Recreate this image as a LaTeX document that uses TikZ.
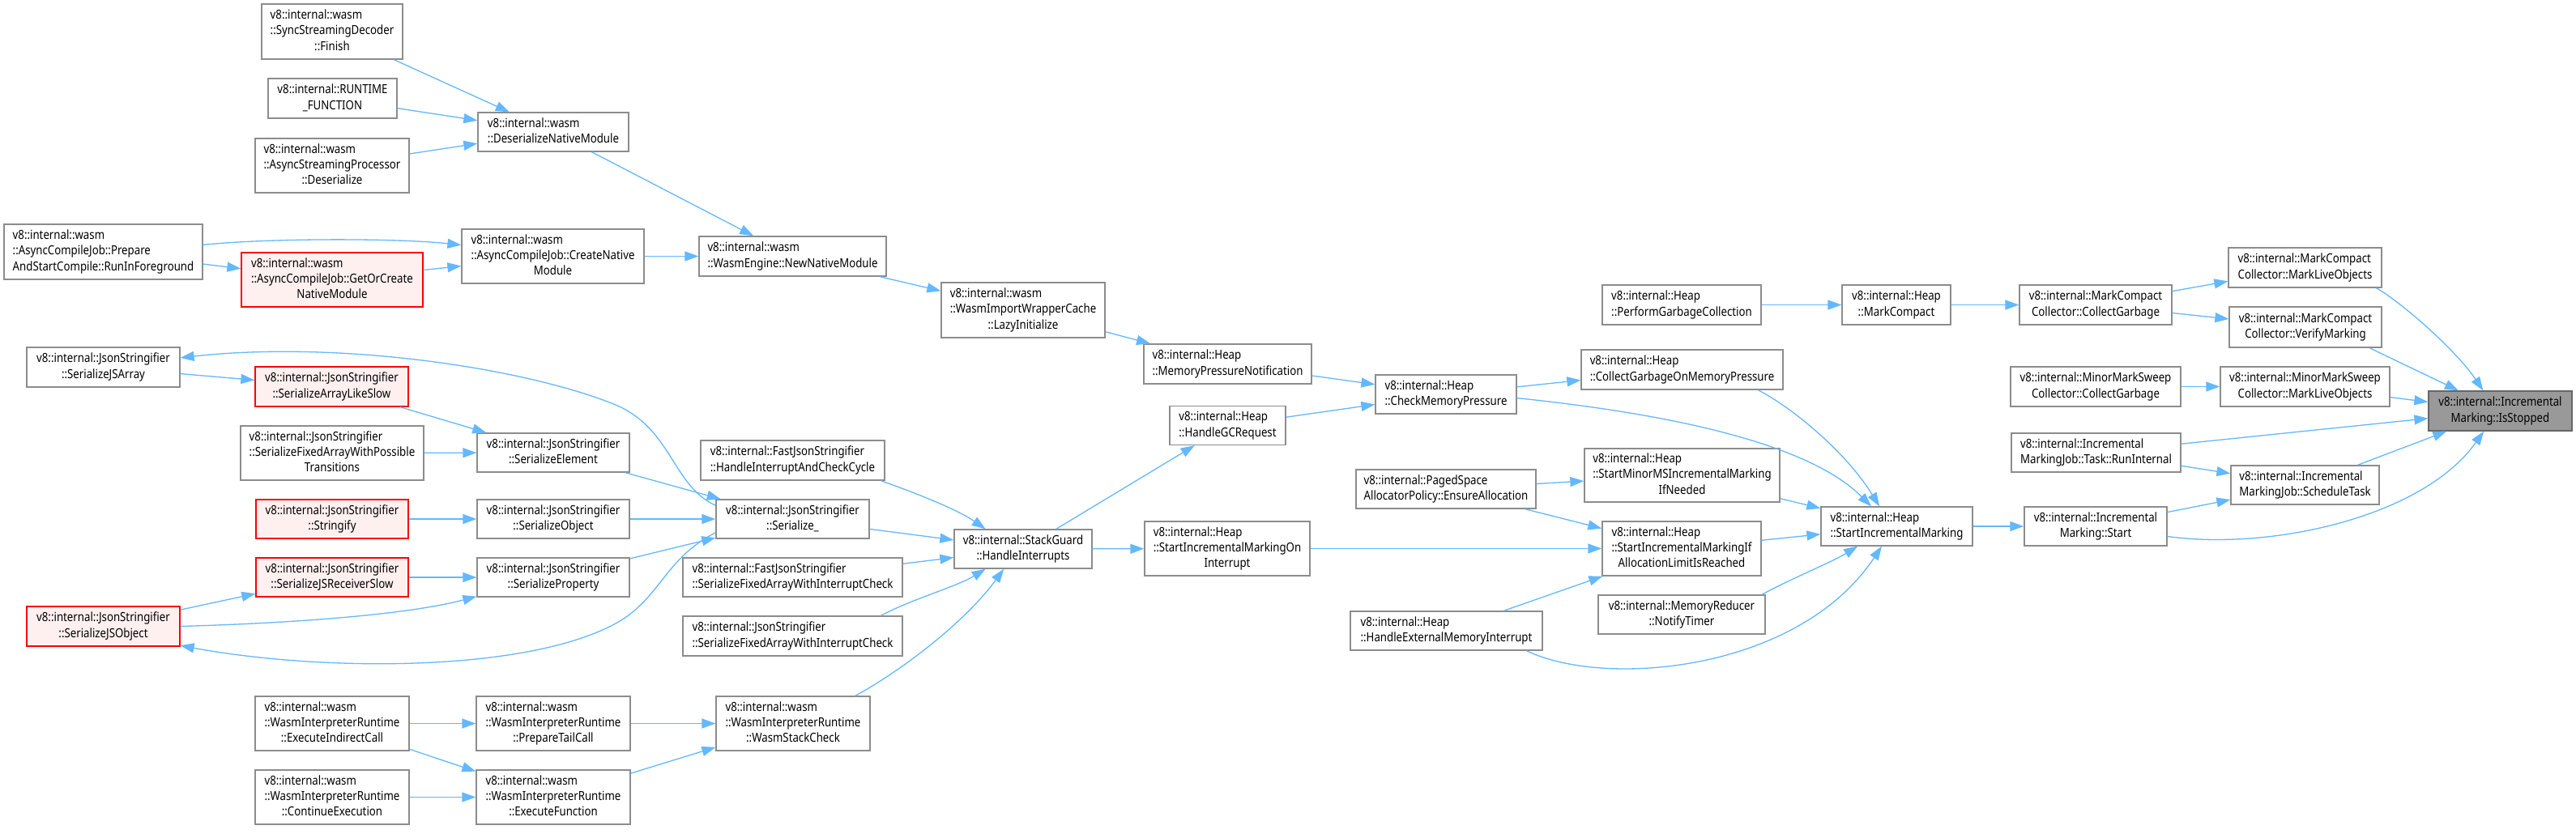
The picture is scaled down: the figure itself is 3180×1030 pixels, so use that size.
\documentclass[tikz,border=0pt]{standalone}
\usepackage{fontspec}
\setmainfont[FakeStretch=0.86]{Noto Sans}
\usetikzlibrary{arrows.meta}
\definecolor{edgeblue}{HTML}{63B8FF}
\definecolor{nodeborder}{HTML}{8C8C8C}
\definecolor{redfill}{HTML}{FFF0F0}
\definecolor{redborder}{HTML}{FF0000}
\definecolor{grayfill}{HTML}{999999}
\definecolor{grayborder}{HTML}{666666}
\newcommand{\lbl}[2]{\begin{tabular}{@{}l@{}}#1\\\multicolumn{1}{@{}c@{}}{#2}\end{tabular}}
\begin{document}
\begin{tikzpicture}[x=1pt,y=-1pt,
  font=\fontsize{15.4}{19.3}\selectfont,
  box/.style={draw=nodeborder,line width=1.3pt,fill=white,inner xsep=4pt,inner ysep=2pt,text=black},
  redbox/.style={box,draw=redborder,fill=redfill},
  graybox/.style={box,draw=grayborder,fill=grayfill},
  edge/.style={draw=edgeblue,line width=1.3pt,-{Triangle[length=17pt,width=12pt]}}]
\fill[white] (0,0) rectangle (3180,1030);
\useasboundingbox (0,0) rectangle (3180,1030);
% wasm group
\node[box,minimum width=174,minimum height=68] (ssd) at (410,39) {\lbl{v8::internal::wasm\\::SyncStreamingDecoder}{::Finish}};
\node[box,minimum width=159,minimum height=49] (rtf) at (410.5,121.5) {\lbl{v8::internal::RUNTIME}{\_FUNCTION}};
\node[box,minimum width=190,minimum height=67] (asp) at (410,204.5) {\lbl{v8::internal::wasm\\::AsyncStreamingProcessor}{::Deserialize}};
\node[box,minimum width=186,minimum height=48] (dnm) at (683,163) {\lbl{v8::internal::wasm}{::DeserializeNativeModule}};
\node[box,minimum width=245,minimum height=68] (psc) at (127.5,311) {\lbl{v8::internal::wasm\\::AsyncCompileJob::Prepare}{AndStartCompile::RunInForeground}};
\node[redbox,minimum width=224,minimum height=67] (goc) at (410,345.5) {\lbl{v8::internal::wasm\\::AsyncCompileJob::GetOrCreate}{NativeModule}};
\node[box,minimum width=225,minimum height=67] (cnm) at (682.5,316.5) {\lbl{v8::internal::wasm\\::AsyncCompileJob::CreateNative}{Module}};
\node[box,minimum width=231,minimum height=49] (nnm) at (978.5,316.5) {\lbl{v8::internal::wasm}{::WasmEngine::NewNativeModule}};
\node[box,minimum width=202,minimum height=68] (li) at (1263,383) {\lbl{v8::internal::wasm\\::WasmImportWrapperCache}{::LazyInitialize}};
% heap group
\node[box,minimum width=207,minimum height=49] (mpn) at (1515.5,449.5) {\lbl{v8::internal::Heap}{::MemoryPressureNotification}};
\node[box,minimum width=143,minimum height=48] (hgc) at (1515.5,525.5) {\lbl{v8::internal::Heap}{::HandleGCRequest}};
\node[box,minimum width=174,minimum height=48] (cmp) at (1785,487) {\lbl{v8::internal::Heap}{::CheckMemoryPressure}};
\node[box,minimum width=196,minimum height=49] (pgc) at (2076,376.5) {\lbl{v8::internal::Heap}{::PerformGarbageCollection}};
\node[box,minimum width=134,minimum height=49] (mc) at (2341,376.5) {\lbl{v8::internal::Heap}{::MarkCompact}};
\node[box,minimum width=188,minimum height=49] (mccg) at (2587,376.5) {\lbl{v8::internal::MarkCompact}{Collector::CollectGarbage}};
\node[box,minimum width=189,minimum height=49] (mcmlo) at (2845.5,330.5) {\lbl{v8::internal::MarkCompact}{Collector::MarkLiveObjects}};
\node[box,minimum width=188,minimum height=50] (mcvm) at (2846,404) {\lbl{v8::internal::MarkCompact}{Collector::VerifyMarking}};
\node[box,minimum width=249,minimum height=49] (cgomp) at (2076.5,456.5) {\lbl{v8::internal::Heap}{::CollectGarbageOnMemoryPressure}};
\node[box,minimum width=210,minimum height=49] (mmscg) at (2587,477.5) {\lbl{v8::internal::MinorMarkSweep}{Collector::CollectGarbage}};
\node[box,minimum width=209,minimum height=49] (mmsmlo) at (2845.5,477.5) {\lbl{v8::internal::MinorMarkSweep}{Collector::MarkLiveObjects}};
\node[graybox,minimum width=177,minimum height=49] (is) at (3086.5,507.5) {\lbl{v8::internal::Incremental}{Marking::IsStopped}};
\node[box,minimum width=209,minimum height=48] (ri) at (2587.5,559) {\lbl{v8::internal::Incremental}{MarkingJob::Task::RunInternal}};
\node[box,minimum width=183,minimum height=48] (st) at (2845.5,599) {\lbl{v8::internal::Incremental}{MarkingJob::ScheduleTask}};
\node[box,minimum width=176,minimum height=48] (ims) at (2587,650) {\lbl{v8::internal::Incremental}{Marking::Start}};
\node[box,minimum width=187,minimum height=48] (sim) at (2341.5,650) {\lbl{v8::internal::Heap}{::StartIncrementalMarking}};
\node[box,minimum width=241,minimum height=66] (smm) at (2076.5,587) {\lbl{v8::internal::Heap\\::StartMinorMSIncrementalMarking}{IfNeeded}};
\node[box,minimum width=222,minimum height=48] (pea) at (1785,604) {\lbl{v8::internal::PagedSpace}{AllocatorPolicy::EnsureAllocation}};
\node[box,minimum width=196,minimum height=67] (sia) at (2076,677.5) {\lbl{v8::internal::Heap\\::StartIncrementalMarkingIf}{AllocationLimitIsReached}};
\node[box,minimum width=206,minimum height=48] (mrnt) at (2076,759) {\lbl{v8::internal::MemoryReducer}{::NotifyTimer}};
\node[box,minimum width=237,minimum height=48] (hemi) at (1785.5,779) {\lbl{v8::internal::Heap}{::HandleExternalMemoryInterrupt}};
\node[box,minimum width=204,minimum height=67] (simoi) at (1515,677.5) {\lbl{v8::internal::Heap\\::StartIncrementalMarkingOn}{Interrupt}};
\node[box,minimum width=170,minimum height=48] (hi) at (1263,678) {\lbl{v8::internal::StackGuard}{::HandleInterrupts}};
% json group
\node[box,minimum width=227,minimum height=49] (hicc) at (978.5,568.5) {\lbl{v8::internal::FastJsonStringifier}{::HandleInterruptAndCheckCycle}};
\node[box,minimum width=189,minimum height=48] (ser) at (978.5,641) {\lbl{v8::internal::JsonStringifier}{::Serialize\_}};
\node[box,minimum width=271,minimum height=48] (fsf) at (978.5,713) {\lbl{v8::internal::FastJsonStringifier}{::SerializeFixedArrayWithInterruptCheck}};
\node[box,minimum width=271,minimum height=49] (jsf) at (978.5,785.5) {\lbl{v8::internal::JsonStringifier}{::SerializeFixedArrayWithInterruptCheck}};
\node[box,minimum width=190,minimum height=67] (wsc) at (979,893.5) {\lbl{v8::internal::wasm\\::WasmInterpreterRuntime}{::WasmStackCheck}};
\node[box,minimum width=189,minimum height=49] (sja) at (127.5,453.5) {\lbl{v8::internal::JsonStringifier}{::SerializeJSArray}};
\node[redbox,minimum width=189,minimum height=49] (sals) at (409.5,477.5) {\lbl{v8::internal::JsonStringifier}{::SerializeArrayLikeSlow}};
\node[box,minimum width=188,minimum height=48] (se) at (683,559) {\lbl{v8::internal::JsonStringifier}{::SerializeElement}};
\node[box,minimum width=226,minimum height=67] (sfa) at (410,559.5) {\lbl{v8::internal::JsonStringifier\\::SerializeFixedArrayWithPossible}{Transitions}};
\node[redbox,minimum width=188,minimum height=48] (str) at (410,641) {\lbl{v8::internal::JsonStringifier}{::Stringify}};
\node[box,minimum width=188,minimum height=48] (so) at (683,641) {\lbl{v8::internal::JsonStringifier}{::SerializeObject}};
\node[redbox,minimum width=188,minimum height=48] (sjrs) at (410,713) {\lbl{v8::internal::JsonStringifier}{::SerializeJSReceiverSlow}};
\node[box,minimum width=188,minimum height=48] (sp) at (683,713) {\lbl{v8::internal::JsonStringifier}{::SerializeProperty}};
\node[redbox,minimum width=189,minimum height=49] (sjo) at (127.5,773.5) {\lbl{v8::internal::JsonStringifier}{::SerializeJSObject}};
% interpreter group
\node[box,minimum width=190,minimum height=67] (eic) at (410,893.5) {\lbl{v8::internal::wasm\\::WasmInterpreterRuntime}{::ExecuteIndirectCall}};
\node[box,minimum width=190,minimum height=67] (ptc) at (683,893.5) {\lbl{v8::internal::wasm\\::WasmInterpreterRuntime}{::PrepareTailCall}};
\node[box,minimum width=190,minimum height=67] (ce) at (410,984.5) {\lbl{v8::internal::wasm\\::WasmInterpreterRuntime}{::ContinueExecution}};
\node[box,minimum width=190,minimum height=67] (ef) at (683,984.5) {\lbl{v8::internal::wasm\\::WasmInterpreterRuntime}{::ExecuteFunction}};
% edges
\draw[edge] (ssd) -- (dnm);
\draw[edge] (rtf) -- (dnm);
\draw[edge] (asp) -- (dnm);
\draw[edge] (dnm) -- (nnm);
\draw[edge] (psc.4.2) .. controls (330,294) and (490,294) .. (cnm.173.2);
\draw[edge] (psc) -- (goc);
\draw[edge] (goc) -- (cnm);
\draw[edge] (cnm) -- (nnm);
\draw[edge] (nnm) -- (li);
\draw[edge] (li) -- (mpn);
\draw[edge] (mpn) -- (cmp);
\draw[edge] (hgc) -- (cmp);
\draw[edge] (cmp) -- (cgomp);
\draw[edge] (cmp.-3.9) .. controls (2050,510) and (2230,545) .. (sim.142.7);
\draw[edge] (pgc) -- (mc);
\draw[edge] (mc) -- (mccg);
\draw[edge] (mccg) -- (mcmlo);
\draw[edge] (mccg) -- (mcvm);
\draw[edge] (mcmlo.-16.5) .. controls (2960,370) and (3030,430) .. (is.130);
\draw[edge] (mcvm.-18.4) -- (is.154);
\draw[edge] (mmscg) -- (mmsmlo);
\draw[edge] (mmsmlo) -- (is);
\draw[edge] (ri) -- (is);
\draw[edge] (ri) -- (st);
\draw[edge] (st) -- (is);
\draw[edge] (ims) -- (st);
\draw[edge] (ims.-8.4) .. controls (2800,680) and (2990,640) .. (is.231.2);
\draw[edge] (sim) -- (ims);
\draw[edge] (cgomp.-15.3) .. controls (2215,505) and (2280,560) .. (sim.131.9);
\draw[edge] (smm) -- (sim);
\draw[edge] (sia) -- (sim);
\draw[edge] (mrnt.14.9) .. controls (2210,715) and (2260,695) .. (sim.207.8);
\draw[edge] (hemi.-14.9) .. controls (1980,850) and (2220,830) .. (sim.233.9);
\draw[edge] (pea) -- (smm);
\draw[edge] (pea) -- (sia);
\draw[edge] (hemi) -- (sia);
\draw[edge] (simoi) -- (sia);
\draw[edge] (hi) -- (hgc);
\draw[edge] (hi) -- (simoi);
\draw[edge] (hicc.-13.8) .. controls (1125,607) and (1180,628) .. (hi.152);
\draw[edge] (ser) -- (hi);
\draw[edge] (fsf) -- (hi);
\draw[edge] (jsf.13.8) .. controls (1125,740) and (1180,725) .. (hi.208);
\draw[edge] (wsc.24.6) .. controls (1110,830) and (1190,770) .. (hi.226.2);
\draw[edge] (ser.170.4) .. controls (830,600) and (830,530) .. (760,500) .. controls (650,455) and (420,420) .. (sja.7.5);
\draw[edge] (ser.190.2) .. controls (820,690) and (815,740) .. (760,770) .. controls (650,830) and (400,830) .. (sjo.-14.2);
\draw[edge] (sja) -- (sals);
\draw[edge] (sals) -- (se);
\draw[edge] (sfa) -- (se);
\draw[edge] (se) -- (ser);
\draw[edge] (str) -- (so);
\draw[edge] (so) -- (ser);
\draw[edge] (sjrs) -- (sp);
\draw[edge] (sp) -- (ser);
\draw[edge] (sjo) -- (sjrs);
\draw[edge] (sjo.0.9) .. controls (350,770) and (500,760) .. (sp.194.2);
\draw[edge] (eic) -- (ptc);
\draw[edge] (eic) -- (ef);
\draw[edge] (ce) -- (ef);
\draw[edge] (ptc) -- (wsc);
\draw[edge] (ef) -- (wsc);
\end{tikzpicture}
\end{document}
